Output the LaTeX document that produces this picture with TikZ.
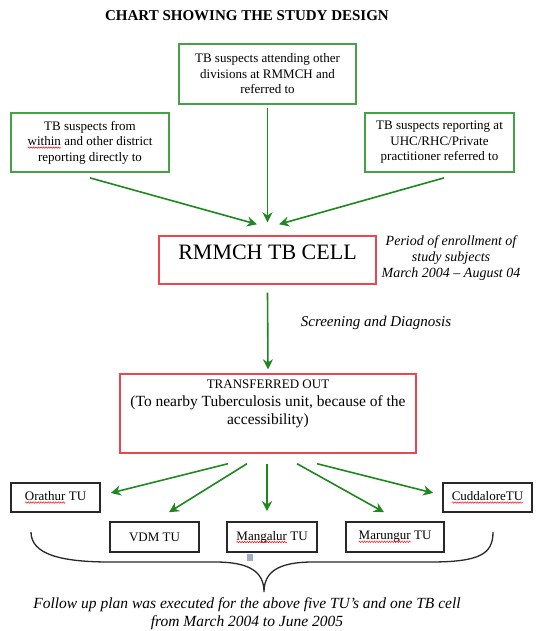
\documentclass[tikz,border=0pt]{standalone}
\usepackage{fontspec}
\setmainfont{Liberation Serif}
\usetikzlibrary{arrows.meta,decorations.pathmorphing}
\definecolor{boxgreen}{RGB}{70,160,70}
\definecolor{arrgreen}{RGB}{30,135,30}
\definecolor{boxred}{RGB}{235,70,80}
\definecolor{tugray}{RGB}{40,40,40}
\definecolor{handlecol}{RGB}{160,170,200}
\newcommand{\sqw}[1]{\tikz[baseline=(w.base),x=1pt,y=1pt]{\node[draw=none,fill=none,inner sep=0pt,outer sep=0pt,minimum width=0pt,minimum height=0pt](w){#1};\draw[red,line width=0.5pt,decorate,decoration={snake,amplitude=0.7pt,segment length=2.5pt}]([yshift=-2pt]w.base west)--([yshift=-2pt]w.base east);}}
\begin{document}
\begin{tikzpicture}[x=1pt,y=-1pt,
 gbox/.style={draw=boxgreen,line width=1.8pt,align=center,font=\fontsize{13}{15.5}\selectfont,inner sep=2pt},
 rbox/.style={draw=boxred,line width=1.4pt},
 tubox/.style={draw=tugray,line width=1.6pt,minimum width=89pt,minimum height=29pt,font=\fontsize{13}{15}\selectfont,inner sep=2pt},
 arr/.style={draw=arrgreen,line width=1.6pt,-{Stealth[length=10pt,width=10pt]}},
 brace/.style={draw=tugray,line width=1.3pt}]
\fill[white] (0,0) rectangle (540,631);
\useasboundingbox (0,0) rectangle (540,631);
\node[font=\bfseries\fontsize{15}{18}\selectfont] (title) at (247,16) {CHART SHOWING THE STUDY DESIGN};
\node[gbox,minimum width=177pt,minimum height=60pt] (tb) at (267.5,74) {TB suspects attending other\\divisions at RMMCH and\\referred to};
\node[gbox,minimum width=158pt,minimum height=59pt] (lb) at (90,142.5) {TB suspects from\\\sqw{within} and other district\\reporting directly to};
\node[gbox,minimum width=149pt,minimum height=59pt] (rb) at (439.5,142.5) {TB suspects reporting at\\UHC/RHC/Private\\practitioner referred to};
\node[rbox,minimum width=217pt,minimum height=48pt] (rm) at (267.5,260) {};
\node[font=\fontsize{22}{26}\selectfont] (rmt) at (267.5,252) {RMMCH TB CELL};
\node[font=\itshape\fontsize{14}{16}\selectfont,align=center] (period) at (451,258) {Period of enrollment of\\study subjects\\March 2004 -- August 04};
\node[font=\itshape\fontsize{15}{18}\selectfont] (scr) at (376,323) {Screening and Diagnosis};
\node[rbox,minimum width=296pt,minimum height=79pt] (tr) at (268,413.5) {};
\node[align=center,font=\fontsize{15.5}{18}\selectfont] (trt) at (268,404) {{\fontsize{13}{18}\selectfont TRANSFERRED OUT}\\(To nearby Tuberculosis unit, because of the\\accessibility)};
\node[tubox] (or) at (55.5,497.5) {\sqw{Orathur} TU};
\node[tubox] (cu) at (487.5,497.5) {\sqw{CuddaloreTU}};
\node[tubox,minimum height=30pt] (vdm) at (154.5,537) {VDM TU};
\node[tubox,minimum width=90pt,minimum height=30pt] (mg) at (272,537) {\sqw{Mangalur} TU};
\node[tubox,minimum width=98pt,minimum height=30pt] (mr) at (395,537) {\sqw{Marungur} TU};
\node[fill=handlecol,minimum width=6pt,minimum height=7pt,inner sep=0pt] (hd) at (250,557) {};
\node[font=\itshape\fontsize{15.5}{18}\selectfont,align=center] (foot) at (247,614) {Follow up plan was executed for the above five TU's and one TB cell\\from March 2004 to June 2005};
\draw[arr] ([yshift=-5pt]lb.south) -- ([xshift=-10.5pt,yshift=11pt]rm.north);
\draw[arr] ([yshift=-3pt]tb.south) -- ([yshift=13pt]rm.north);
\draw[arr] ([xshift=4.5pt,yshift=-5pt]rb.south) -- ([xshift=11.5pt,yshift=11pt]rm.north);
\draw[arr] ([yshift=-8pt]rm.south) -- ([yshift=4pt]tr.north);
\draw[arr] ([xshift=-40pt,yshift=-10pt]tr.south) -- ([xshift=10pt,yshift=4.5pt]or.east);
\draw[arr] ([xshift=-21pt,yshift=-10pt]tr.south) -- ([xshift=14.5pt,yshift=9pt]vdm.north);
\draw[arr] ([xshift=-1pt,yshift=-10pt]tr.south) -- ([xshift=-5pt,yshift=10pt]mg.north);
\draw[arr] ([xshift=29pt,yshift=-10pt]tr.south) -- ([xshift=-11pt,yshift=9pt]mr.north);
\draw[arr] ([xshift=49pt,yshift=-10pt]tr.south) -- ([xshift=-9pt,yshift=4.5pt]cu.west);
\coordinate (bl) at (31,532);
\coordinate (bt) at (264,592);
\coordinate (br) at (493,532);
\draw[brace] (bl) .. controls (31,554) and (60,562) .. (110,562) -- (215,562) .. controls (250,562) and (264,572) .. (bt) .. controls (264,572) and (278,562) .. (313,562) -- (430,562) .. controls (480,562) and (493,554) .. (br);
\end{tikzpicture}
\end{document}
